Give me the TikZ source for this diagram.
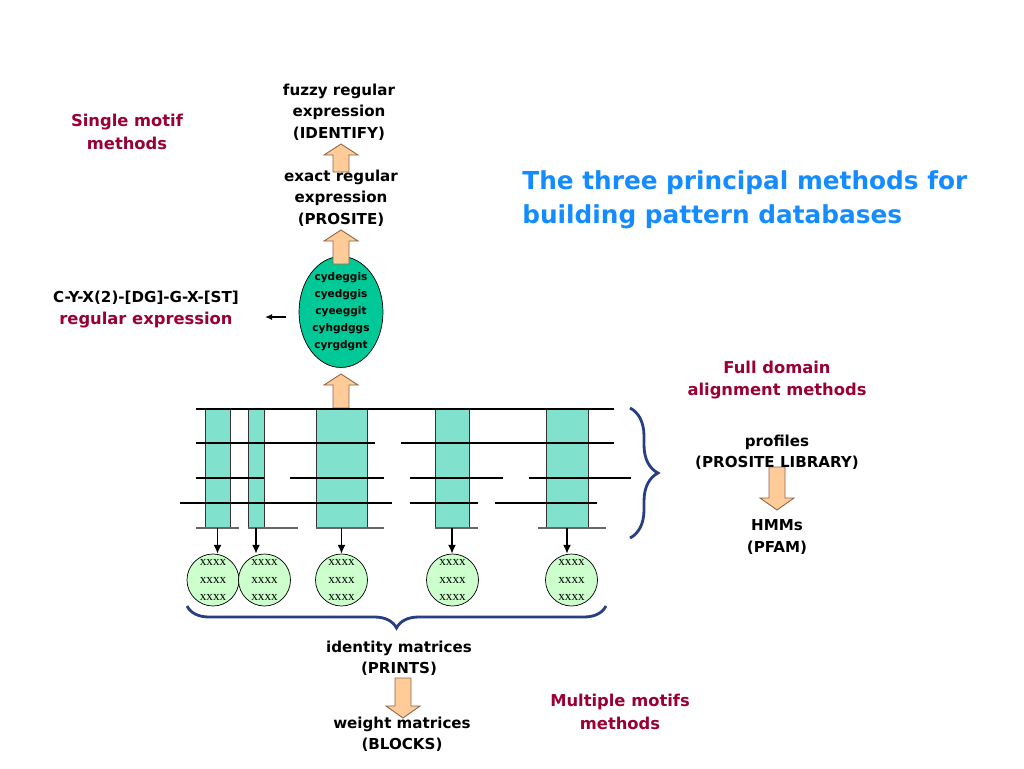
\documentclass[tikz,border=0pt]{standalone}
\usepackage{fontspec}
\setmainfont{DejaVu Sans}
\newfontfamily\xxfont{Liberation Serif}
\usepackage{xcolor}
\usepackage{tikz}
\usetikzlibrary{shapes.geometric,arrows.meta,decorations.pathreplacing}

\definecolor{motifred}{RGB}{153,0,51}
\definecolor{titleblue}{RGB}{20,140,255}
\definecolor{seqteal}{RGB}{0,200,150}
\definecolor{boxteal}{RGB}{128,226,204}
\definecolor{circgreen}{RGB}{204,255,204}
\definecolor{arroworange}{RGB}{255,204,153}
\definecolor{arrowedge}{RGB}{140,100,70}
\definecolor{bracenavy}{RGB}{40,62,130}

\begin{document}
\begin{tikzpicture}[
    x=0.02cm, y=-0.02cm,
    lbl/.style={
        align=center,
        inner sep=0pt,
        font=\fontsize{8.6}{12.2}\selectfont\bfseries
    },
    redlbl/.style={
        lbl,
        text=motifred,
        font=\fontsize{9.3}{13}\selectfont\bfseries
    },
    seqs/.style={
        ellipse,
        draw,
        fill=seqteal,
        inner sep=0pt,
        minimum width=1.68cm,
        minimum height=2.06cm,
        align=center,
        font=\fontsize{6}{9.7}\selectfont\bfseries
    },
    alnbox/.style={
        draw=black!80,
        fill=boxteal,
        minimum height=2.38cm,
        inner sep=0pt
    },
    xcirc/.style={
        circle,
        draw,
        fill=circgreen,
        minimum size=1.04cm,
        inner sep=0pt,
        align=center,
        font=\fontsize{7.5}{9.7}\selectfont\xxfont
    },
    blockarrow/.style={
        draw=arrowedge,
        fill=arroworange,
        line width=0.5pt
    },
    arrow/.style={
        -{Latex[length=5pt,width=4.5pt]},
        thick
    },
    brace/.style={
        draw=bracenavy,
        line width=1.6pt,
        decorate
    }
]
\useasboundingbox (0,0) rectangle (1024,768);

% title
\node[lbl, anchor=west, align=left, text=titleblue,
      font=\fontsize{14.1}{19.3}\selectfont\bfseries] (title) at (522,200)
{The three principal methods for\\building pattern databases};

% single motif column
\node[redlbl] (single) at (127,132) {Single motif\\methods};
\node[lbl] (fuzzy) at (339,112) {fuzzy regular\\expression\\(IDENTIFY)};
\node[lbl] (exact) at (341,198) {exact regular\\expression\\(PROSITE)};

\node[seqs] (seq) at (341,312)
{cydeggis\\cyedggis\\cyeeggit\\cyhgdggs\\cyrgdgnt};

\node[lbl] (regex) at (146,298) {C-Y-X(2)-[DG]-G-X-[ST]};
\node[redlbl] (regname) at (146,320) {regular expression};
\coordinate (regtip) at (265,317);
\draw[-{Latex[length=4pt,width=3.5pt]}, thick] ([xshift=-0.26cm]seq.west |- regtip) -- (regtip);

% block arrows
\foreach \x/\t/\b in {341/144/172, 341/230/264, 341/374/408}
    \draw[blockarrow] (\x-8,\b) -- (\x-8,\t+11) -- (\x-17,\t+11) -- (\x,\t)
        -- (\x+17,\t+11) -- (\x+8,\t+11) -- (\x+8,\b) -- cycle;
\foreach \x/\t/\b in {777/467/510, 403/678/718}
    \draw[blockarrow] (\x-8,\t) -- (\x-8,\b-12) -- (\x-17,\b-12) -- (\x,\b)
        -- (\x+17,\b-12) -- (\x+8,\b-12) -- (\x+8,\t) -- cycle;

% alignment blocks
\node[alnbox, minimum width=0.5cm]  (b1) at (217.5,468.5) {};
\node[alnbox, minimum width=0.32cm] (b2) at (256,468.5) {};
\node[alnbox, minimum width=1.02cm] (b3) at (341.5,468.5) {};
\node[alnbox, minimum width=0.68cm] (b4) at (452,468.5) {};
\node[alnbox, minimum width=0.84cm] (b5) at (567,468.5) {};

% sequence lines
\foreach \y/\a/\e in {409/196/614,
                      443/196/375, 443/401/614,
                      478/196/264, 478/290/384, 478/410/503, 478/529/631,
                      503/180/392, 503/410/478, 503/495/597}
    \draw[line width=0.7pt] (\a,\y) -- (\e,\y);
\foreach \a/\e in {196/239, 248/298, 316/384, 435/478, 538/606}
    \draw[black!60, line width=0.7pt] (\a,528) -- (\e,528);

% motif circles
\foreach \i/\x in {1/213, 2/264.5, 3/341.5, 4/452.5, 5/571.5}
    \node[xcirc] (c\i) at (\x,580) {xxxx\\xxxx\\xxxx};

\foreach \i in {1,...,5}
    \draw[arrow] (b\i.south) -- (b\i.south |- c\i.north);

% braces
\draw[brace, decoration={brace, amplitude=0.44cm}] (606,606) -- (187,606);
\draw[brace, decoration={brace, amplitude=0.56cm}] (630,408) -- (630,538);

% multiple motifs
\node[lbl] (ident) at (399,658) {identity matrices\\(PRINTS)};
\node[lbl] (weight) at (402,734) {weight matrices\\(BLOCKS)};
\node[redlbl] (multi) at (620,712) {Multiple motifs\\methods};

% full domain
\node[redlbl] (full) at (777,380) {Full domain\\alignment methods};
\node[lbl] (prof) at (777,452) {profiles\\(PROSITE LIBRARY)};
\node[lbl] (hmm) at (777,537) {HMMs\\(PFAM)};

\end{tikzpicture}
\end{document}
